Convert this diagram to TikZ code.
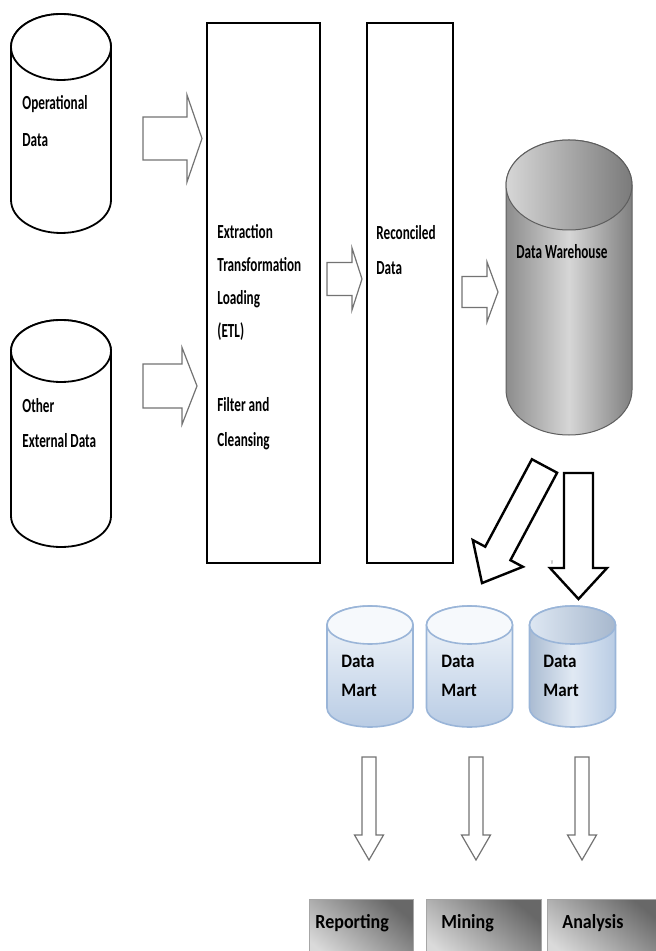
\documentclass[tikz,border=0pt]{standalone}
\usepackage{fontspec}
\setmainfont{Carlito}[FakeStretch=0.66]
\newfontfamily\martfont{Carlito}[FakeStretch=0.9]
\usetikzlibrary{calc}
\definecolor{whline}{HTML}{5E5E5E}
\definecolor{martline}{HTML}{9AB5D8}
\definecolor{martlow}{HTML}{B9CCE4}
\definecolor{marttop}{HTML}{F6F9FC}
\definecolor{boxdark}{HTML}{686868}
\definecolor{boxlight}{HTML}{DADADA}
\newcommand\drum[7]{%
\path[#1] (#3-#6,#4) -- (#3-#6,#5) arc[start angle=180,end angle=360,x radius=#6,y radius=#7] -- (#3+#6,#4) arc[start angle=0,end angle=180,x radius=#6,y radius=#7] -- cycle;
\path[#2] (#3,#4) ellipse[x radius=#6,y radius=#7];}

\begin{document}
\begin{tikzpicture}[x=0.5pt,y=0.5pt,
  lbl/.style={anchor=base west,inner sep=0pt,align=left,font=\fontsize{10}{#1}\selectfont\bfseries},
  lbl/.default=17.5pt,
  martlbl/.style={anchor=base west,inner sep=0pt,align=left,font=\fontsize{9.5}{14.5}\martfont\bfseries},
  outlbl/.style={anchor=base west,inner sep=0pt,font=\fontsize{10}{12}\martfont\bfseries},
  srcdrum/.style={draw=black,line width=0.9pt,fill=white},
  whbody/.style={draw=whline,line width=0.5pt,left color=black!45,right color=black!50,middle color=black!16},
  whlid/.style={draw=whline,line width=0.5pt,left color=black!16,right color=black!52},
  martbody/.style={draw=martline,line width=0.8pt,top color=marttop,bottom color=martlow},
  martlid/.style={draw=martline,line width=0.8pt,fill=marttop},
  martbody3/.style={draw=martline,line width=0.8pt,left color=martlow!92!black,right color=martlow,middle color=marttop!65!martlow},
  martlid3/.style={draw=martline,line width=0.8pt,left color=marttop!60!martlow,right color=martlow!90!black},
  stage/.style={draw,line width=1.4pt,inner sep=0pt},
  outbox/.style={draw=black!35,line width=0.5pt,anchor=north west,minimum height=32pt,inner sep=0pt,
    top color=boxdark,bottom color=boxlight,shading angle=-40},
  thinarr/.style={draw=black!55,line width=0.6pt,fill=white},
  bigarr/.style={draw=black,line width=1.2pt,fill=white},
  pics/blockarr/.style n args={5}{code={
    \draw[#5] (0,-#2) -- (#1-#4,-#2) -- (#1-#4,-#3) -- (#1,0) -- (#1-#4,#3) -- (#1-#4,#2) -- (0,#2) -- cycle;}}]
\useasboundingbox (0,0) rectangle (656,-951);
\clip (0,0) rectangle (656,-951);

\drum{srcdrum}{srcdrum}{61}{-47}{-200}{50}{33}
\drum{srcdrum}{srcdrum}{61}{-351}{-516}{50}{31}
\node[lbl=18.5pt] (opdata) at (22,-147) {Operational\\Data};
\node[lbl] (extdata) at (22,-447) {Other\\External Data};

\node[stage,minimum width=56.5pt,minimum height=270pt] (etl) at (263.5,-293) {};
\node[stage,minimum width=43pt,minimum height=270pt] (rec) at (410,-293) {};
\node[lbl=16.5pt] (etltxt) at (217,-338) {Extraction\\Transformation\\Loading\\(ETL)};
\node[lbl] (filtxt) at (217,-446) {Filter and\\Cleansing};
\node[lbl] (rectxt) at (376,-275) {Reconciled\\Data};

\drum{whbody}{whlid}{569}{-185}{-390}{63}{45}
\node[lbl] (whtxt) at (516,-259) {Data Warehouse};

\foreach \x in {370,469.5} \drum{martbody}{martlid}{\x}{-625}{-708}{43}{19};
\drum{martbody3}{martlid3}{572.5}{-625}{-708}{43}{19}
\foreach \x/\n in {341/1,441/2,543/3} \node[martlbl] (mart\n) at (\x,-696) {Data\\Mart};

\node[outbox,minimum width=52pt] (rep) at (309,-899) {};
\node[outbox,minimum width=57.5pt] (min) at (426,-899) {};
\node[outbox,minimum width=57pt] (ana) at (547,-899) {};
\node[outlbl] (replbl) at ($(rep.north west)+(6,-29)$) {Reporting};
\node[outlbl] (minlbl) at ($(min.north west)+(15,-29)$) {Mining};
\node[outlbl] (analbl) at ($(ana.north west)+(15,-29)$) {Analysis};

\pic at (143,-138.5) {blockarr={59}{21.5}{43.5}{15}{thinarr}};
\pic at (143,-386) {blockarr={54}{22}{38.5}{15}{thinarr}};
\pic at (327,-279) {blockarr={35}{16.5}{31}{10}{thinarr}};
\pic at (462,-292) {blockarr={36}{15.5}{30}{11}{thinarr}};
\pic[rotate=241.9] at (544.5,-466) {blockarr={132.7}{14.3}{28.4}{33.6}{bigarr}};
\pic[rotate=-90] at (578.5,-473) {blockarr={126}{14.5}{28.5}{31}{bigarr}};
\foreach \x in {369,476,582} \pic[rotate=-90] at (\x,-757) {blockarr={103}{7}{14.5}{25}{thinarr}};
\node[inner sep=0pt,text=black!45,font=\fontsize{4}{4}\selectfont] (tick) at (552,-563) {v};
\end{tikzpicture}
\end{document}
